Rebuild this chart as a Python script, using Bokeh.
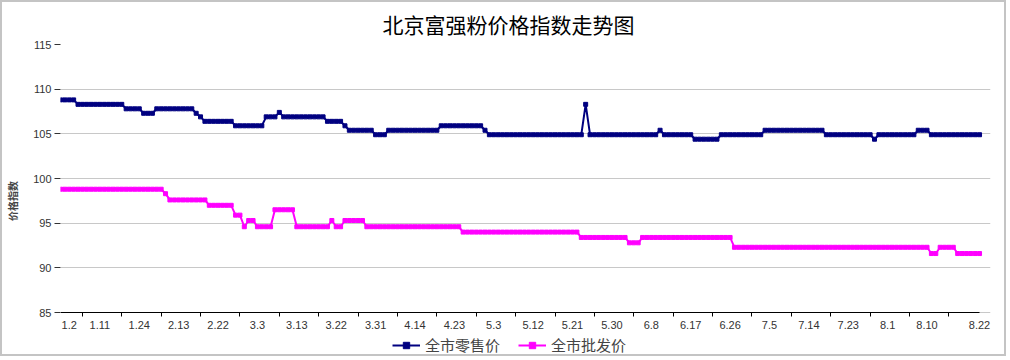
from bokeh.plotting import figure
from bokeh.models import Range1d, FixedTicker, Legend, LegendItem
from bokeh.embed import file_html
from bokeh.resources import INLINE

title = "北京富强粉价格指数走势图"
y_label = "价格指数"
series_names = ["全市零售价", "全市批发价"]

tick_labels = ["1.2", "1.11", "1.24", "2.13", "2.22", "3.3", "3.13", "3.22", "3.31",
               "4.14", "4.23", "5.3", "5.12", "5.21", "5.30", "6.8", "6.17", "6.26",
               "7.5", "7.14", "7.23", "8.1", "8.10", "8.22"]

retail = [
    108.8, 108.8, 108.8, 108.8,
    108.3, 108.3, 108.3, 108.3, 108.3, 108.3, 108.3, 108.3, 108.3, 108.3, 108.3,
    107.8, 107.8, 107.8, 107.8,
    107.3, 107.3, 107.3,
    107.8, 107.8, 107.8, 107.8, 107.8, 107.8, 107.8, 107.8, 107.8,
    107.3, 106.9,
    106.4, 106.4, 106.4, 106.4, 106.4, 106.4, 106.4,
    105.9, 105.9, 105.9, 105.9, 105.9, 105.9, 105.9,
    106.9, 106.9, 106.9,
    107.4,
    106.9, 106.9, 106.9, 106.9, 106.9, 106.9, 106.9, 106.9, 106.9, 106.9,
    106.4, 106.4, 106.4, 106.4,
    105.9,
    105.4, 105.4, 105.4, 105.4, 105.4, 105.4,
    104.9, 104.9, 104.9,
    105.4, 105.4, 105.4, 105.4, 105.4, 105.4, 105.4, 105.4, 105.4, 105.4, 105.4, 105.4,
    105.9, 105.9, 105.9, 105.9, 105.9, 105.9, 105.9, 105.9, 105.9, 105.9,
    105.4,
    104.9, 104.9, 104.9, 104.9, 104.9, 104.9, 104.9, 104.9, 104.9, 104.9, 104.9,
    104.9, 104.9, 104.9, 104.9, 104.9, 104.9, 104.9, 104.9, 104.9, 104.9, 104.9,
    108.3,
    104.9, 104.9, 104.9, 104.9, 104.9, 104.9, 104.9, 104.9,
    104.9, 104.9, 104.9, 104.9, 104.9, 104.9, 104.9, 104.9,
    105.4,
    104.9, 104.9, 104.9, 104.9, 104.9, 104.9, 104.9,
    104.4, 104.4, 104.4, 104.4, 104.4, 104.4,
    104.9, 104.9, 104.9, 104.9, 104.9, 104.9, 104.9, 104.9, 104.9, 104.9,
    105.4, 105.4, 105.4, 105.4, 105.4, 105.4, 105.4, 105.4, 105.4, 105.4, 105.4, 105.4, 105.4, 105.4,
    104.9, 104.9, 104.9, 104.9, 104.9, 104.9, 104.9, 104.9, 104.9, 104.9, 104.9,
    104.4,
    104.9, 104.9, 104.9, 104.9, 104.9, 104.9, 104.9, 104.9, 104.9,
    105.4, 105.4, 105.4,
    104.9, 104.9, 104.9, 104.9, 104.9, 104.9, 104.9, 104.9, 104.9, 104.9, 104.9, 104.9,
]

wholesale = [
    98.8, 98.8, 98.8, 98.8, 98.8, 98.8, 98.8, 98.8, 98.8, 98.8, 98.8, 98.8,
    98.8, 98.8, 98.8, 98.8, 98.8, 98.8, 98.8, 98.8, 98.8, 98.8, 98.8, 98.8,
    98.3,
    97.6, 97.6, 97.6, 97.6, 97.6, 97.6, 97.6, 97.6, 97.6,
    97.0, 97.0, 97.0, 97.0, 97.0, 97.0,
    95.9, 95.9,
    94.6,
    95.3, 95.3,
    94.6, 94.6, 94.6, 94.6,
    96.5, 96.5, 96.5, 96.5, 96.5,
    94.6, 94.6, 94.6, 94.6, 94.6, 94.6, 94.6, 94.6,
    95.3,
    94.6, 94.6,
    95.3, 95.3, 95.3, 95.3, 95.3,
    94.6, 94.6, 94.6, 94.6, 94.6, 94.6, 94.6, 94.6, 94.6, 94.6, 94.6,
    94.6, 94.6, 94.6, 94.6, 94.6, 94.6, 94.6, 94.6, 94.6, 94.6, 94.6,
    94.0, 94.0, 94.0, 94.0, 94.0, 94.0, 94.0, 94.0, 94.0,
    94.0, 94.0, 94.0, 94.0, 94.0, 94.0, 94.0, 94.0, 94.0,
    94.0, 94.0, 94.0, 94.0, 94.0, 94.0, 94.0, 94.0, 94.0,
    93.4, 93.4, 93.4, 93.4, 93.4, 93.4, 93.4, 93.4, 93.4, 93.4, 93.4,
    92.8, 92.8, 92.8,
    93.4, 93.4, 93.4, 93.4, 93.4, 93.4, 93.4, 93.4, 93.4, 93.4, 93.4,
    93.4, 93.4, 93.4, 93.4, 93.4, 93.4, 93.4, 93.4, 93.4, 93.4,
    92.3, 92.3, 92.3, 92.3, 92.3, 92.3, 92.3, 92.3, 92.3, 92.3, 92.3, 92.3, 92.3, 92.3, 92.3,
    92.3, 92.3, 92.3, 92.3, 92.3, 92.3, 92.3, 92.3, 92.3, 92.3, 92.3, 92.3, 92.3, 92.3, 92.3,
    92.3, 92.3, 92.3, 92.3, 92.3, 92.3, 92.3, 92.3, 92.3, 92.3, 92.3, 92.3, 92.3, 92.3, 92.3,
    91.6, 91.6,
    92.3, 92.3, 92.3, 92.3,
    91.6, 91.6, 91.6, 91.6, 91.6, 91.6,
]

x = list(range(len(retail)))
n = len(x)
label_every = 9

# first label nudged inward so it is not cut by the frame edge
label_pos = [2] + [i * label_every for i in range(1, len(tick_labels) - 1)] + [n - 1]
tick_pos = [i * label_every + 5 for i in range(len(tick_labels) - 1)]
colors = ["#000080", "#ff00ff"]

y_min, y_max = 85, 115
# frame runs down to the canvas bottom (legend sits inside it); 85..115 spans 274 px
y_bottom = y_min - 46 * (y_max - y_min) / 274
x_right = (n - 1) + 11 / 4.395   # room for the last tick label

p = figure(width=1006, height=356, x_range=Range1d(0, x_right), y_range=Range1d(y_bottom, y_max),
           output_backend="svg", toolbar_location=None,
           min_border_left=54, min_border_right=18, min_border_top=35, min_border_bottom=1)
p.styles = {"position": "absolute", "left": "0px", "top": "0px",
            "border": "2px solid #c4c4c4"}
p.outline_line_color = None
p.background_fill_color = "white"
p.border_fill_color = "white"

p.title.text = title
p.title.align = "left"
p.title.offset = 322
p.title.vertical_align = "middle"
p.title.text_font = "Noto Sans CJK SC"
p.title.text_font_size = "21px"
p.title.text_font_style = "normal"
p.title.text_color = "#000000"
p.title.standoff = 10

renderers = []
for ys, c in zip([retail, wholesale], colors):
    l = p.line(x, ys, line_color=c, line_width=2)
    s = p.scatter(x, ys, marker="square", size=4, fill_color=c, line_color=c)
    renderers.append([l, s])

xa = p.xaxis[0]
xa.fixed_location = y_min
xa.bounds = (0, n - 1)
xa.ticker = FixedTicker(ticks=label_pos, minor_ticks=tick_pos)
xa.major_label_overrides = {pos: lab for pos, lab in zip(label_pos, tick_labels)}
xa.major_tick_out = 0
xa.major_tick_in = 0
xa.minor_tick_out = 4
xa.minor_tick_in = 0
xa.minor_tick_line_color = "#000000"
xa.axis_line_color = "#000000"
xa.major_label_standoff = 4
xa.major_label_text_font = "Liberation Sans"
xa.major_label_text_font_size = "11px"
xa.major_label_text_color = "#333333"

ya = p.yaxis[0]
ya.ticker = FixedTicker(ticks=[85, 90, 95, 100, 105, 110, 115])
ya.axis_line_color = None
ya.major_tick_out = 6
ya.major_tick_in = 0
ya.major_tick_line_color = "#333333"
ya.minor_tick_line_color = None
ya.major_label_standoff = 3
ya.major_label_text_font = "Liberation Sans"
ya.major_label_text_font_size = "11px"
ya.major_label_text_color = "#333333"
ya.axis_label = y_label
ya.axis_label_text_font = "Noto Sans CJK SC"
ya.axis_label_text_font_size = "10px"
ya.axis_label_text_font_style = "bold"
ya.axis_label_standoff = 10

p.xgrid.grid_line_color = None
p.ygrid.grid_line_color = "#c8c8c8"

legend = Legend(items=[LegendItem(label=nm, renderers=r) for nm, r in zip(series_names, renderers)],
                orientation="horizontal", location=(332, 2))
legend.border_line_color = None
legend.background_fill_alpha = 0
legend.label_text_font = "Noto Sans CJK SC"
legend.label_text_font_size = "15px"
legend.label_height = 16
legend.glyph_height = 16
legend.glyph_width = 28
legend.label_standoff = 5
legend.spacing = 18
legend.padding = 0
legend.margin = 0
p.add_layout(legend, "center")

open("out.html", "w").write(file_html(p, INLINE))
